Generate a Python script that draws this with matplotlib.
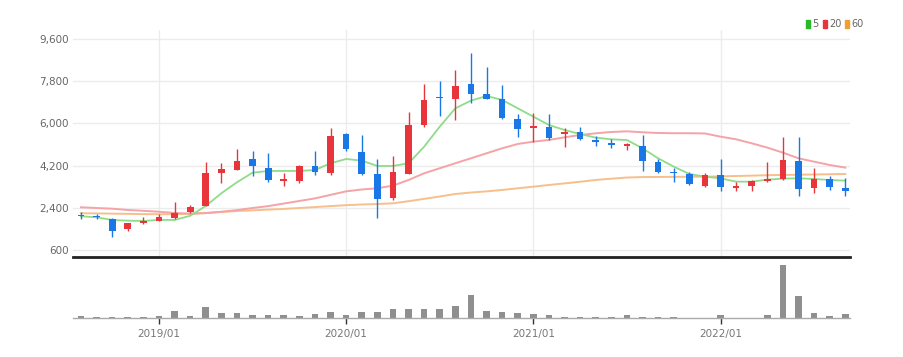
import numpy as np
import matplotlib
matplotlib.use("Agg")
import matplotlib.pyplot as plt
from matplotlib.patches import Rectangle

plt.rcParams['font.family'] = ['Liberation Sans Narrow', 'DejaVu Sans']

# monthly candles, 2018/08 .. 2022/09
months = [f"{y}/{m:02d}" for y in range(2018, 2023) for m in range(1, 13)][7:7 + 50]

opens = [2060, 2020, 1935, 1480, 1740, 1845, 1950, 2230, 2490, 3900, 4010, 4470, 4085, 3560, 3560, 4200, 3870,
         5560, 4770, 3840, 2800, 3840, 5910, 7130, 7030, 7680, 7250, 7040, 6170, 5820, 5860, 5530, 5650, 5310,
         5180, 5050, 5040, 4370, 3910, 3840, 3340, 3790, 3250, 3330, 3540, 3630, 4410, 3230, 3610, 3230]
highs = [2230, 2120, 1960, 1760, 2000, 2120, 2630, 2520, 4350, 4330, 4900, 4820, 4720, 3870, 4220, 4830, 5790,
         5600, 5500, 4480, 4610, 6500, 7680, 7800, 8260, 9020, 8390, 7640, 6400, 6460, 6400, 5790, 5860, 5460,
         5340, 5150, 5500, 4470, 4090, 3940, 3870, 4470, 3510, 3600, 4340, 5430, 5430, 4090, 3740, 3660]
lows = [1910, 1935, 1170, 1420, 1710, 1820, 1910, 2190, 2480, 3450, 4000, 3770, 3510, 3340, 3470, 3800, 3800,
        4830, 3800, 1950, 2730, 3820, 5840, 6320, 6140, 6860, 7020, 6180, 5430, 5220, 5290, 5010, 5290, 5050,
        4940, 4870, 3970, 3870, 3490, 3380, 3300, 3130, 3130, 3130, 3520, 3600, 2920, 3040, 3160, 2920]
closes = [2030, 1990, 1420, 1740, 1830, 2000, 2190, 2420, 3870, 4040, 4410, 4180, 3590, 3610, 4200, 3910, 5480,
          4910, 3840, 2780, 3910, 5930, 7010, 7080, 7600, 7250, 7060, 6240, 5750, 5870, 5390, 5650, 5340, 5210,
          5080, 5120, 4410, 3910, 3880, 3400, 3800, 3270, 3290, 3560, 3630, 4440, 3190, 3610, 3300, 3130]

# moving averages as drawn
ma5 = [2037, 1993, 1880, 1850, 1838, 1880, 1880, 2058, 2477, 3018, 3487, 3897, 3970, 3970, 3970, 4012, 4297,
       4481, 4410, 4183, 4183, 4297, 5007, 5860, 6643, 6970, 7168, 7000, 6643, 6287, 5931, 5718, 5547, 5391,
       5320, 5290, 4937, 4510, 4155, 3842, 3726, 3657, 3514, 3514, 3600, 3643, 3657, 3628, 3586, 3557]
ma20 = [2420, 2390, 2360, 2306, 2270, 2230, 2180, 2150, 2170, 2230, 2300, 2390, 2470, 2580, 2690, 2800, 2950,
        3100, 3180, 3232, 3343, 3586, 3871, 4085, 4300, 4510, 4724, 4937, 5121, 5220, 5292, 5405, 5505, 5576,
        5633, 5660, 5620, 5590, 5580, 5580, 5570, 5434, 5320, 5150, 4965, 4752, 4510, 4366, 4225, 4112]
ma60 = [2165, 2160, 2150, 2140, 2130, 2125, 2125, 2140, 2180, 2220, 2260, 2290, 2320, 2350, 2390, 2430, 2470,
        2510, 2540, 2560, 2590, 2680, 2780, 2880, 2988, 3050, 3100, 3159, 3230, 3300, 3372, 3440, 3510, 3586,
        3640, 3690, 3710, 3715, 3720, 3722, 3726, 3740, 3755, 3770, 3790, 3800, 3810, 3820, 3830, 3842]

volume = [23, 13, 13, 13, 13, 23, 73, 23, 110, 47, 47, 30, 30, 27, 23, 43, 63, 30, 63, 63, 87, 87, 93, 87, 123,
          233, 73, 63, 47, 43, 27, 15, 15, 15, 15, 27, 15, 15, 15, 3, 3, 27, 3, 3, 27, 533, 220, 50, 23, 43]

yticks = [600, 2400, 4200, 6000, 7800, 9600]
year_ticks = ['2019/01', '2020/01', '2021/01', '2022/01']

RED = '#e8353b'
BLUE = '#1a78e6'
x = np.arange(len(months))
o, h, l, c = map(np.array, (opens, highs, lows, closes))
up = c >= o

fig = plt.figure(figsize=(9.04, 3.57), dpi=100)
ax = fig.add_axes([73 / 904, 100 / 357, 777 / 904, 227.4 / 357])
axv = fig.add_axes([73 / 904, 39 / 357, 777 / 904, 56 / 357], sharex=ax)

# grid
for yt in yticks:
    ax.axhline(yt, color='#ececec', lw=1, zorder=0)
tick_pos = [months.index(t) for t in year_ticks]
for xp in tick_pos:
    ax.axvline(xp, color='#ececec', lw=1, zorder=0)

# moving averages
ax.plot(x, ma60, color='#f7bf8c', lw=1.4, zorder=1)
ax.plot(x, ma20, color='#f5a3a6', lw=1.4, zorder=1)
ax.plot(x, ma5, color='#8edc8a', lw=1.3, zorder=1)

# candles
colors = np.where(up, RED, BLUE)
ax.vlines(x, l, h, colors=colors, lw=1.0, zorder=2)
body_lo = np.minimum(o, c)
body_h = np.maximum(np.abs(c - o), 60)
ax.bar(x, body_h, bottom=body_lo, width=0.43, color=colors, zorder=3)

ax.set_xlim(-0.51, 49.3)
ax.set_ylim(300, 10000)
ax.set_yticks(yticks)
ax.set_yticklabels([f"{v:,}" for v in yticks])
ax.tick_params(axis='y', length=0, pad=3, labelsize=7.5, labelcolor='#666666')
ax.tick_params(axis='x', length=0, labelbottom=False)
for s in ['top', 'right', 'left']:
    ax.spines[s].set_visible(False)
ax.spines['bottom'].set_color('#222222')
ax.spines['bottom'].set_linewidth(2)

# volume
axv.bar(x, volume, width=0.42, color='#8f8f8f', zorder=2)
axv.set_ylim(0, 560)
axv.set_yticks([])
axv.set_xticks(tick_pos)
axv.set_xticklabels(year_ticks)
axv.tick_params(axis='x', length=4, width=1, color='#333333', pad=4, labelsize=7.5, labelcolor='#777777')
for s in ['top', 'right', 'left']:
    axv.spines[s].set_visible(False)
axv.spines['bottom'].set_color('#aaaaaa')
axv.spines['bottom'].set_linewidth(1)

# legend
legend_items = [('5', '#27b927'), ('20', '#e8353b'), ('60', '#f0a030')]
lx = 806
for label, col in legend_items:
    fig.patches.append(Rectangle((lx / 904, 1 - 28 / 357), 4 / 904, 8 / 357,
                                 transform=fig.transFigure, color=col))
    fig.text((lx + 6) / 904, 1 - 24 / 357, label, fontsize=7, color='#666666', va='center')
    lx += 12 + 5 * len(label)

fig.savefig('out.png', dpi=100)
